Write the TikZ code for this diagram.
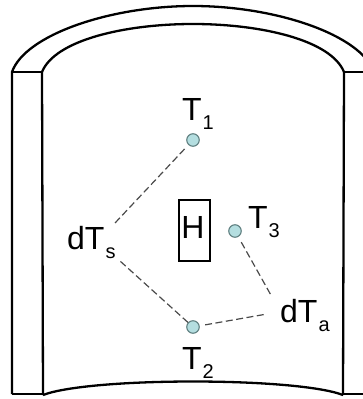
\documentclass[tikz,border=0pt]{standalone}
\usepackage{fontspec}
\setmainfont{Liberation Sans}
\definecolor{sensor}{HTML}{B4DEE0}
\definecolor{sensoredge}{HTML}{5F7F80}
\definecolor{dashc}{HTML}{4A4A4A}
\newcommand{\lbl}[2]{\fontsize{32}{32}\selectfont #1\kern1pt\raisebox{-9pt}{\fontsize{20}{20}\selectfont #2}}
\tikzset{
  wall/.style={draw=black,line width=2.3pt,line join=round},
  sensornode/.style={circle,draw=sensoredge,fill=sensor,line width=1.1pt,minimum size=12.5pt,inner sep=0pt},
  txt/.style={anchor=base west,inner sep=0pt,text=black},
  link/.style={draw=dashc,line width=1.2pt,dash pattern=on 7pt off 3.5pt}
}
\begin{document}
\begin{tikzpicture}[x=1pt,y=-1pt]
\useasboundingbox (0,0) rectangle (363,399);
\clip (0,0) rectangle (363,399);
% vessel
\draw[wall] (12,394) -- (12,72) .. controls (25,35) and (110,6) .. (193,6)
   .. controls (276,6) and (361,35) .. (374,72);
\draw[wall] (43,395) -- (42,72) .. controls (55,40) and (125,24) .. (193,24)
   .. controls (261,24) and (331,40) .. (344,72) -- (343,395);
\draw[wall] (12,72) -- (42,72);
\draw[wall] (344,72) -- (363,72);
\draw[wall] (12,394) -- (43,394);
\draw[wall] (343,394) -- (363,394);
\draw[wall] (43,395) .. controls (90,377) and (296,377) .. (343,395);
% heater
\node[draw=black,line width=2.4pt,minimum width=31pt,minimum height=61pt,inner sep=0pt] (H) at (194.5,230.5) {};
\node[inner sep=0pt,font=\fontsize{32}{32}\selectfont] (Ht) at (193,227) {H};
% sensors
\node[sensornode] (T1) at (193,140) {};
\node[sensornode] (T2) at (193,327) {};
\node[sensornode] (T3) at (235,231) {};
% labels
\node[txt] (L1) at (182,120) {\lbl{T}{1}};
\node[txt] (L2) at (182,369) {\lbl{T}{2}};
\node[txt] (L3) at (248,228) {\lbl{T}{3}};
\node[txt] (Ls) at (67,249) {\lbl{dT}{s}};
\node[txt] (La) at (280,322) {\lbl{dT}{a}};
% connector ends
\coordinate (sA) at (115,223);
\coordinate (sB) at (120,261);
\coordinate (aA) at (272,297);
\coordinate (aB) at (267,314);
\draw[link,shorten <=5.5pt] (T1) -- (sA);
\draw[link] (T2) -- (sB);
\draw[link,shorten <=6pt] (T3) -- (aA);
\draw[link,shorten <=5.5pt] (T2) -- (aB);
\end{tikzpicture}
\end{document}
